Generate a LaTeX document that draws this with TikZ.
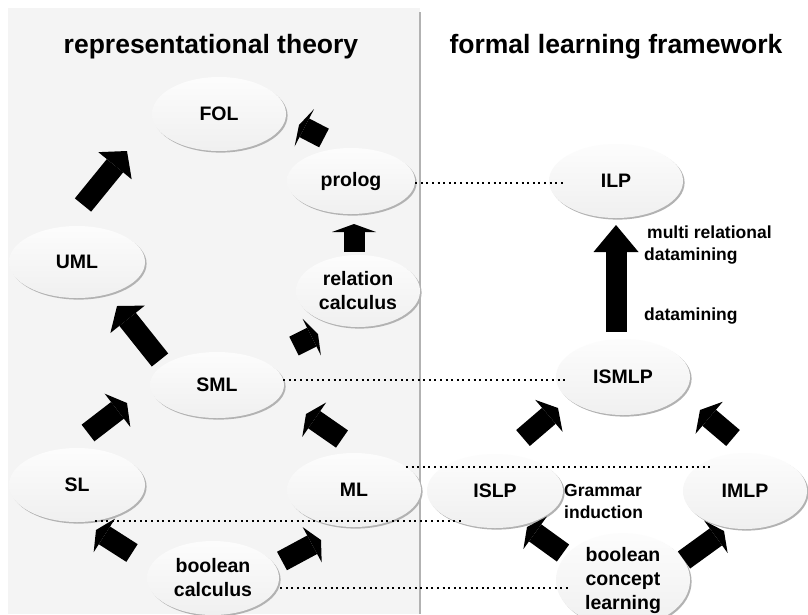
\documentclass[tikz,border=0pt]{standalone}
\usepackage{fontspec}
\setmainfont{Liberation Sans}
\usetikzlibrary{arrows.meta,calc,shapes.geometric,shadows}
\begin{document}
\begin{tikzpicture}[x=1pt,y=-1pt,
  bubble/.style 2 args={ellipse, inner sep=0pt, align=center,
    minimum width=#1, minimum height=#2,
    font=\bfseries\fontsize{19.5}{24}\selectfont,
    top color=gray!2, bottom color=gray!12,
    general shadow={fill=gray!60, shadow xshift=1.6pt, shadow yshift=-1.6pt}},
  heading/.style={anchor=base, font=\bfseries\fontsize{26.5}{30}\selectfont},
  note/.style={anchor=base west, align=left, inner sep=0pt,
    font=\bfseries\fontsize{17.5}{21.5}\selectfont},
  blk/.style 2 args={line width=21pt, draw=black,
    -{Triangle[length=#1, width=#2, line width=0pt]}},
  dots/.style={line width=2pt, dash pattern=on 2pt off 3.6pt}
]
\useasboundingbox (0,0) rectangle (808,614);
\fill[white] (0,0) rectangle (808,614);
% left panel and divider
\fill[gray!9] (8,8) rectangle (420,614);
\draw[gray!60, line width=1.6pt] (420,12) -- (420,614);

% headings
\node[heading] (hl) at (211,53) {representational theory};
\node[heading] (hr) at (616,53) {formal learning framework};

% representational theory
\node[bubble={134pt}{74pt}] (FOL)    at (219,114) {FOL};
\node[bubble={128pt}{66pt}] (prolog) at (351,181) {prolog};
\node[bubble={136pt}{72pt}] (UML)    at (77,262)  {UML};
\node[bubble={124pt}{72pt}] (rel)    at (358,291) {relation\\calculus};
\node[bubble={134pt}{66pt}] (SML)    at (217,385) {SML};
\node[bubble={136pt}{74pt}] (SL)     at (77,485)  {SL};
\node[bubble={134pt}{74pt}] (ML)     at (354,490) {ML};
\node[bubble={132pt}{74pt}] (bcalc)  at (213,578) {boolean\\calculus};

% formal learning framework
\node[bubble={134pt}{74pt}] (ILP)    at (616,181) {ILP};
\node[bubble={134pt}{76pt}] (ISMLP)  at (623,377) {ISMLP};
\node[bubble={136pt}{74pt}] (ISLP)   at (495,491) {ISLP};
\node[bubble={124pt}{76pt}] (IMLP)   at (745,491) {IMLP};
\node[bubble={134pt}{76pt}] (bcl)    at (623,580) {boolean\\concept\\learning};

% correspondences
\draw[dots] ($(prolog.east)+(0,2)$) -- ($(ILP.west)+(14,2)$);
\draw[dots] ($(SML.east)+(-1,-5)$) -- ($(ISMLP.west)+(12,3)$);
\draw[dots] ($(ML.center)+(52,-23)$) -- ($(IMLP.center)+(-33,-24)$);
\draw[dots] ($(SL.center)+(18,36)$) -- ($(ISLP.center)+(-33,30)$);
\draw[dots] ($(bcalc.east)+(1,10)$) -- ($(bcl.west)+(12,8)$);

% block arrows, left
\draw[blk={19pt}{43pt}] ($(UML)+(6,-57)$)   -- ($(FOL)+(-92,37)$);
\draw[blk={6pt}{42pt}]  ($(prolog)+(-27,-43)$) -- ($(FOL)+(80,11)$);
\draw[blk={8pt}{44pt}]  ($(rel)+(-4,-39)$)  -- ($(prolog)+(3,43)$);
\draw[blk={17pt}{44pt}] ($(SML)+(-57,-25)$) -- ($(UML)+(40,44)$);
\draw[blk={7pt}{41pt}]  ($(SML)+(77,-39)$)  -- ($(rel)+(-40,43)$);
\draw[blk={12pt}{42pt}] ($(SL)+(11,-52)$)   -- ($(SML)+(-90,18)$);
\draw[blk={10pt}{42pt}] ($(ML)+(-12,-51)$)  -- ($(SML)+(89,29)$);
\draw[blk={10pt}{40pt}] ($(bcalc)+(-81,-25)$) -- ($(SL)+(19,45)$);
\draw[blk={10pt}{40pt}] ($(bcalc)+(69,-17)$)  -- ($(ML)+(-33,50)$);

% block arrows, right
\draw[blk={27pt}{45pt}] ($(ISMLP)+(-7,-45)$) -- ($(ILP)+(0,44)$);
\draw[blk={12pt}{42pt}] ($(ISLP)+(28,-53)$)  -- ($(ISMLP)+(-65,31)$);
\draw[blk={12pt}{42pt}] ($(IMLP)+(-12,-53)$) -- ($(ISMLP)+(77,33)$);
\draw[blk={10pt}{40pt}] ($(bcl)+(-60,-27)$)  -- ($(ISLP)+(32,36)$);
\draw[blk={10pt}{40pt}] ($(bcl)+(61,-20)$)   -- ($(IMLP)+(-21,40)$);

% arrow labels (anchored at the baseline of their last line)
\node[note] (mrd) at (644,260) {\hspace{3pt}multi relational\\datamining};
\node[note] (dm)  at (644,320) {datamining};
\node[note] (gi)  at (564,518) {Grammar\\induction};
\end{tikzpicture}
\end{document}
